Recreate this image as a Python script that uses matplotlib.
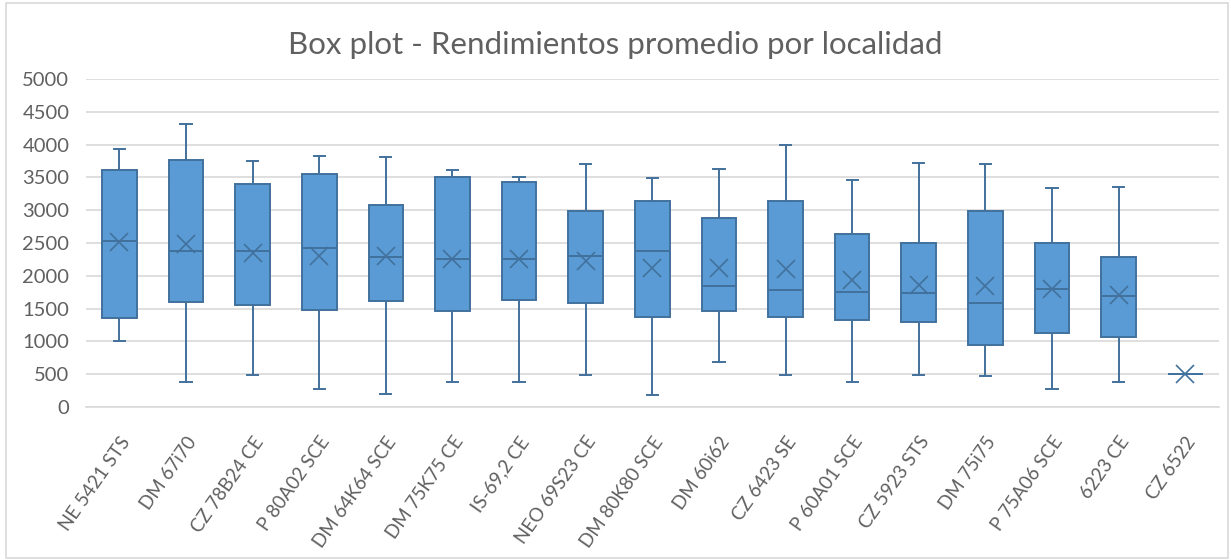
import matplotlib
matplotlib.use("Agg")
import matplotlib.pyplot as plt
from matplotlib.patches import Rectangle

plt.rcParams['font.family'] = ['Lato', 'DejaVu Sans']

# values
localidades = ["NE 5421 STS", "DM 67i70", "CZ 78B24 CE", "P 80A02 SCE", "DM 64K64 SCE",
               "DM 75K75 CE", "IS-69,2 CE", "NEO 69S23 CE", "DM 80K80 SCE", "DM 60i62",
               "CZ 6423 SE", "P 60A01 SCE", "CZ 5923 STS", "DM 75i75", "P 75A06 SCE",
               "6223 CE", "CZ 6522"]
minimo = [1007, 381, 483, 280, 193, 387, 376, 483, 188, 682, 483, 381, 483, 473, 280, 381, 500]
q1 = [1363, 1597, 1561, 1475, 1622, 1470, 1633, 1582, 1368, 1470, 1368, 1322, 1292, 941, 1134, 1068, 500]
mediana = [2538, 2375, 2380, 2426, 2289, 2253, 2253, 2304, 2380, 1851, 1785, 1760, 1734, 1587, 1806, 1699, 500]
q3 = [3611, 3769, 3397, 3550, 3072, 3509, 3423, 2991, 3148, 2879, 3138, 2640, 2502, 2985, 2502, 2284, 500]
maximo = [3926, 4313, 3748, 3830, 3809, 3611, 3499, 3698, 3484, 3631, 3998, 3464, 3718, 3698, 3336, 3357, 500]
promedio = [2518, 2492, 2350, 2299, 2299, 2263, 2263, 2223, 2126, 2126, 2111, 1943, 1867, 1841, 1806, 1714, 500]

stats = []
for i in range(len(localidades)):
    stats.append(dict(label=localidades[i], whislo=minimo[i], q1=q1[i], med=mediana[i],
                      q3=q3[i], whishi=maximo[i], mean=promedio[i], fliers=[]))

azul = '#5B9BD5'
borde = '#41719C'
gris = '#606060'

fig = plt.figure(figsize=(12.31, 5.60), dpi=100)
ax = fig.add_axes([0.0699, 0.273, 0.920, 0.586])

ax.bxp(stats, positions=range(len(localidades)), widths=0.52, patch_artist=True,
       showmeans=True, showfliers=False,
       boxprops=dict(facecolor=azul, edgecolor=borde, linewidth=1.4),
       medianprops=dict(color=borde, linewidth=1.4),
       whiskerprops=dict(color=borde, linewidth=1.4),
       capprops=dict(color=borde, linewidth=1.4),
       meanprops=dict(marker='x', markeredgecolor=borde, markersize=13, markeredgewidth=1.2),
       capwidths=0.17, zorder=3)

ax.set_xlim(-0.5, len(localidades) - 0.5)
ax.set_ylim(0, 5000)
ax.set_yticks(range(0, 5001, 500))
ax.yaxis.grid(True, color='#D9D9D9', linewidth=1.2, zorder=0)
ax.set_axisbelow(True)
for s in ['top', 'right', 'left']:
    ax.spines[s].set_visible(False)
ax.spines['bottom'].set_color('#D9D9D9')
ax.spines['bottom'].set_linewidth(1.2)
ax.tick_params(axis='both', length=0, colors=gris)
ax.tick_params(axis='y', pad=12, labelsize=14.5)
ax.tick_params(axis='x', pad=19, labelsize=13.5)
ax.set_xticks(range(len(localidades)))
ax.set_xticklabels(localidades, rotation=55, ha='right', rotation_mode='anchor')

fig.suptitle("Box plot - Rendimientos promedio por localidad", y=0.945, fontsize=22.5, color=gris)

fig.patches.append(Rectangle((6 / 1231, 2 / 560), 1222 / 1231, 555 / 560, transform=fig.transFigure,
                             fill=False, edgecolor='#D9D9D9', linewidth=1.2))

fig.savefig("out.png", dpi=100)
